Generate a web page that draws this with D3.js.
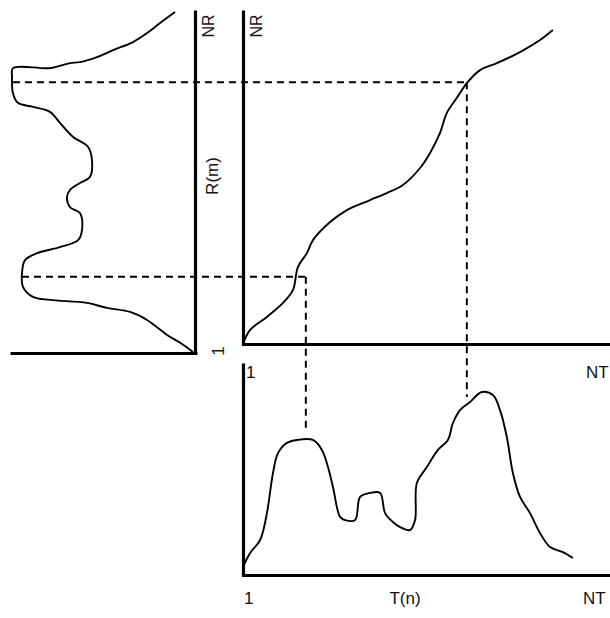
<!DOCTYPE html>
<html>
<head>
<meta charset="utf-8">
<script src="https://cdn.jsdelivr.net/npm/d3@7"></script>
<style>
  html, body { margin: 0; padding: 0; background: #fff; }
  svg { display: block; }
  text { font-family: "Liberation Sans", Arial, sans-serif; fill: #111; }
</style>
</head>
<body>
<svg id="chart" width="610" height="618"></svg>
<script>
// ---------------- DATA ----------------
// Mapping curve (top right): T index n (0..100 = 1..NT) -> R index m (0..100 = 1..NR)
const mapN = [0, 2.0, 6.7, 11.2, 14.0, 15.4, 17.9, 19.6, 24.4, 29.1, 35.6, 40.3, 44.8, 49.6, 52.4, 55.2, 57.1, 59.9, 62.7, 66.4, 71.1, 77.6, 83.2, 86.8];
const mapM = [0, 4.2, 8.1, 12.3, 16.2, 23.1, 27.2, 31.1, 36.5, 40.1, 43.1, 45.2, 47.6, 52.7, 57.2, 63.2, 69.2, 73.7, 78.1, 82.0, 84.1, 87.4, 91.0, 94.0];

// Bottom profile T(n)
const tN = [0, 2.0, 4.8, 6.7, 8.4, 9.8, 12.3, 15.1, 19.6, 22.1, 23.8, 25.2, 27.2, 28.6, 31.4, 32.8, 35.6, 38.4, 39.8, 42.0, 44.0, 46.8, 48.2, 48.7, 51.5, 54.6, 57.4, 58.8, 60.8, 63.6, 66.9, 70.0, 72.0, 73.9, 75.6, 77.6, 80.4, 83.2, 86.0, 89.6, 92.4];
const tV = [0.038, 0.104, 0.165, 0.292, 0.481, 0.575, 0.623, 0.637, 0.637, 0.590, 0.509, 0.415, 0.274, 0.259, 0.259, 0.368, 0.387, 0.387, 0.292, 0.250, 0.226, 0.212, 0.259, 0.434, 0.509, 0.590, 0.637, 0.717, 0.778, 0.816, 0.863, 0.849, 0.778, 0.651, 0.481, 0.368, 0.292, 0.198, 0.132, 0.108, 0.080];

// Left profile R(m)
const rM = [99.4, 96.1, 93.1, 90.4, 88.0, 85.9, 84.4, 84.1, 82.6, 82.6, 79.9, 75.1, 72.2, 71.0, 69.5, 66.2, 62.0, 59.0, 55.1, 50.0, 48.2, 46.1, 44.0, 41.0, 39.2, 34.1, 31.1, 29.0, 27.2, 25.1, 21.3, 17.1, 14.1, 13.2, 12.3, 10.8, 9.6, 7.2, 2.7, 0, -2.4];
const rV = [0.108, 0.189, 0.259, 0.335, 0.443, 0.530, 0.622, 0.676, 0.784, 0.984, 0.989, 0.984, 0.957, 0.876, 0.784, 0.730, 0.659, 0.578, 0.557, 0.568, 0.622, 0.676, 0.692, 0.676, 0.622, 0.611, 0.632, 0.730, 0.854, 0.919, 0.935, 0.930, 0.876, 0.784, 0.584, 0.476, 0.351, 0.259, 0.151, 0.070, 0.011];

// Correspondence guides (dashed): [n, m, left-profile value, bottom-profile value]
const guideN = [17.6, 62.7];
const guideM = [20.1, 78.4];
const guideRV = [0.935, 0.984];
const guideTV = [0.69, 0.84];

// Labels
const labelNR = "NR";
const labelNT = "NT";
const labelOne = "1";
const labelR = "R(m)";
const labelT = "T(n)";

// ---------------- SCALES ----------------
const svg = d3.select("#chart");
const xT = d3.scaleLinear().domain([0, 100]).range([243, 600]);   // T index (shared by top-right and bottom)
const yR = d3.scaleLinear().domain([0, 100]).range([344, 10]);    // R index (shared by top-right and left)
const xRV = d3.scaleLinear().domain([0, 1]).range([195, 10]);     // left profile value (extends left)
const yTV = d3.scaleLinear().domain([0, 1]).range([575, 363]);    // bottom profile value

const axisW = 3.2;

// ---------------- AXES ----------------
// Left panel axes
svg.append("g").attr("transform", `translate(${xRV(0)},0)`)
  .call(d3.axisLeft(d3.scaleLinear().domain([0, 1]).range([10, 354])).tickValues([]).tickSizeOuter(0))
  .call(g => g.select(".domain").attr("stroke", "#000").attr("stroke-width", axisW));
svg.append("g").attr("transform", `translate(0,353)`)
  .call(d3.axisBottom(d3.scaleLinear().domain([0, 1]).range([10, 197])).tickValues([]).tickSizeOuter(0))
  .call(g => g.select(".domain").attr("stroke", "#000").attr("stroke-width", axisW));

// Top-right axes
svg.append("g").attr("transform", `translate(${xT(0)},0)`)
  .call(d3.axisLeft(d3.scaleLinear().domain([0, 1]).range([yR(100), yR(0) + 1.5])).tickValues([]).tickSizeOuter(0))
  .call(g => g.select(".domain").attr("stroke", "#000").attr("stroke-width", axisW));
svg.append("g").attr("transform", `translate(0,${yR(0)})`)
  .call(d3.axisBottom(d3.scaleLinear().domain([0, 1]).range([xT(0) - 1.5, 612])).tickValues([]).tickSizeOuter(0))
  .call(g => g.select(".domain").attr("stroke", "#000").attr("stroke-width", axisW));

// Bottom axes
svg.append("g").attr("transform", `translate(${xT(0)},0)`)
  .call(d3.axisLeft(d3.scaleLinear().domain([0, 1]).range([yTV(1), yTV(0) + 1.5])).tickValues([]).tickSizeOuter(0))
  .call(g => g.select(".domain").attr("stroke", "#000").attr("stroke-width", axisW));
svg.append("g").attr("transform", `translate(0,${yTV(0)})`)
  .call(d3.axisBottom(d3.scaleLinear().domain([0, 1]).range([xT(0) - 1.5, 612])).tickValues([]).tickSizeOuter(0))
  .call(g => g.select(".domain").attr("stroke", "#000").attr("stroke-width", axisW));

// ---------------- DASHED GUIDES ----------------
const dash = "7,5";
guideN.forEach((n, i) => {
  svg.append("line")
    .attr("x1", xRV(guideRV[i])).attr("x2", xT(n))
    .attr("y1", yR(guideM[i])).attr("y2", yR(guideM[i]))
    .attr("stroke", "#000").attr("stroke-width", 2).attr("stroke-dasharray", dash);
  svg.append("line")
    .attr("x1", xT(n)).attr("x2", xT(n))
    .attr("y1", yR(guideM[i])).attr("y2", yTV(guideTV[i]))
    .attr("stroke", "#000").attr("stroke-width", 2).attr("stroke-dasharray", dash);
});

// ---------------- CURVES ----------------
const curve = d3.curveCatmullRom.alpha(0.5);

svg.append("path")
  .datum(mapN.map((n, i) => [n, mapM[i]]))
  .attr("fill", "none").attr("stroke", "#000").attr("stroke-width", 1.9)
  .attr("d", d3.line().x(d => xT(d[0])).y(d => yR(d[1])).curve(curve));

svg.append("path")
  .datum(tN.map((n, i) => [n, tV[i]]))
  .attr("fill", "none").attr("stroke", "#000").attr("stroke-width", 1.9)
  .attr("d", d3.line().x(d => xT(d[0])).y(d => yTV(d[1])).curve(curve));

svg.append("path")
  .datum(rM.map((m, i) => [rV[i], m]))
  .attr("fill", "none").attr("stroke", "#000").attr("stroke-width", 1.9)
  .attr("d", d3.line().x(d => xRV(d[0])).y(d => yR(d[1])).curve(curve));

// ---------------- LABELS ----------------
function vtext(x, y, t, size) {
  svg.append("text")
    .attr("transform", `translate(${x},${y}) rotate(-90)`)
    .attr("text-anchor", "middle").attr("dominant-baseline", "central")
    .attr("font-size", size).text(t);
}
vtext(xRV(0) + 13, 26, labelNR, 16);
vtext(xT(0) + 13, 26, labelNR, 16);
vtext(xRV(0) + 17, 176, labelR, 17);
vtext(xRV(0) + 23, 351, labelOne, 17);

svg.append("text").attr("x", xT(0) + 3).attr("y", 378).attr("font-size", 17).text(labelOne);
svg.append("text").attr("x", 586).attr("y", 378).attr("font-size", 17).text(labelNT);
svg.append("text").attr("x", xT(0) + 1).attr("y", 604).attr("font-size", 17).text(labelOne);
svg.append("text").attr("x", 405).attr("y", 604).attr("text-anchor", "middle").attr("font-size", 17).text(labelT);
svg.append("text").attr("x", 583).attr("y", 604).attr("font-size", 17).text(labelNT);
</script>
</body>
</html>
